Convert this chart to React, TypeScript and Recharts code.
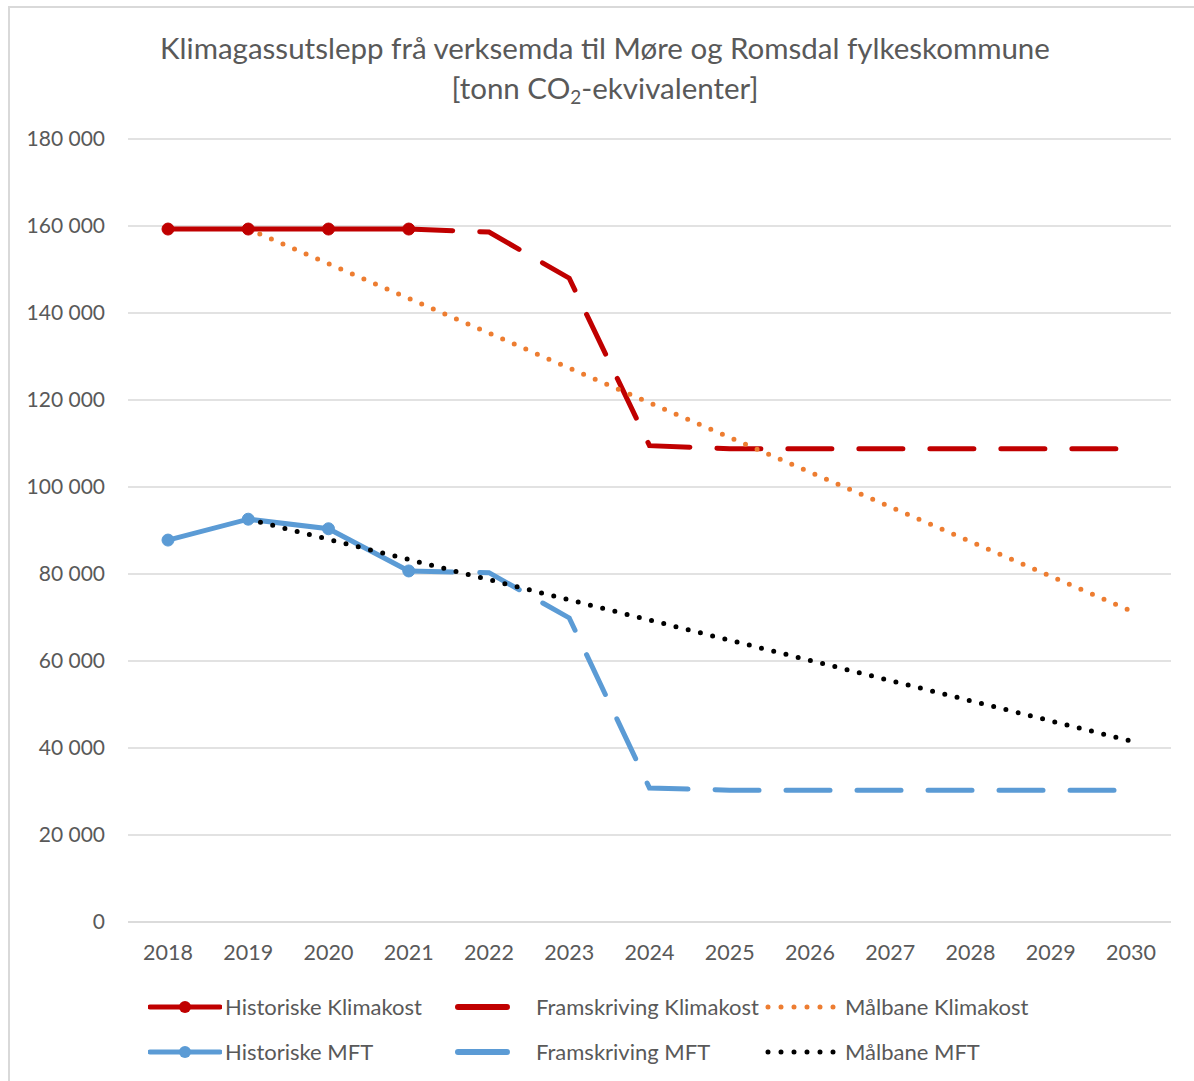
import React from 'react'
import { LineChart, Line, XAxis, YAxis, CartesianGrid } from 'recharts';

const years = ['2018', '2019', '2020', '2021', '2022', '2023', '2024', '2025', '2026', '2027', '2028', '2029', '2030'];

const historiskeKlimakost = [159300, 159300, 159300, 159300, null, null, null, null, null, null, null, null, null];
const framskrivingKlimakost = [null, null, null, 159300, 158600, 148000, 109500, 108800, 108800, 108800, 108800, 108800, 108800];
const malbaneKlimakost = [null, 159300, null, null, null, null, null, null, null, null, null, null, 71500];

const historiskeMFT = [87800, 92600, 90400, 80700, null, null, null, null, null, null, null, null, null];
const framskrivingMFT = [null, null, null, 80700, 80300, 69900, 30800, 30300, 30300, 30300, 30300, 30300, 30300];
const malbaneMFT = [null, 92600, null, null, null, null, null, null, null, null, null, null, 41600];

const yTicks = [0, 20000, 40000, 60000, 80000, 100000, 120000, 140000, 160000, 180000];

const RED = '#c00000';
const BLUE = '#5b9bd5';
const ORANGE = '#ed7d31';
const BLACK = '#000000';
const TEXT = '#595959';
const GRID = '#d9d9d9';
const FONT = 'Lato, "Open Sans", sans-serif';

const data = years.map((year, i) => ({
    year,
    historiskeKlimakost: historiskeKlimakost[i],
    framskrivingKlimakost: framskrivingKlimakost[i],
    malbaneKlimakost: malbaneKlimakost[i],
    historiskeMFT: historiskeMFT[i],
    framskrivingMFT: framskrivingMFT[i],
    malbaneMFT: malbaneMFT[i],
}));

function formatTick(v: number) {
    return String(v).replace(/\B(?=(\d{3})+(?!\d))/g, ' ');
}

function LegendIcon({ kind, color }: { kind: 'marker' | 'dash' | 'dot'; color: string }) {
    if (kind === 'marker') {
        return (
            <svg width={74} height={16} style={{ display: 'block' }}>
                <line x1={2} y1={8} x2={72} y2={8} stroke={color} strokeWidth={5} strokeLinecap="round" />
                <circle cx={37} cy={8} r={6} fill={color} />
            </svg>
        );
    }
    if (kind === 'dash') {
        return (
            <svg width={56} height={16} style={{ display: 'block' }}>
                <line x1={3} y1={8} x2={52} y2={8} stroke={color} strokeWidth={6} strokeLinecap="round" />
            </svg>
        );
    }
    return (
        <svg width={72} height={16} style={{ display: 'block' }}>
            <line x1={3} y1={8} x2={70} y2={8} stroke={color} strokeWidth={5} strokeLinecap="round" strokeDasharray="0 13" />
        </svg>
    );
}

const legendItems = [
    { label: 'Historiske Klimakost', kind: 'marker', color: RED, x: 138, textX: 215, y: 999 },
    { label: 'Framskriving Klimakost', kind: 'dash', color: RED, x: 445, textX: 526, y: 999 },
    { label: 'Målbane Klimakost', kind: 'dot', color: ORANGE, x: 755, textX: 835, y: 999 },
    { label: 'Historiske MFT', kind: 'marker', color: BLUE, x: 138, textX: 215, y: 1044 },
    { label: 'Framskriving MFT', kind: 'dash', color: BLUE, x: 445, textX: 526, y: 1044 },
    { label: 'Målbane MFT', kind: 'dot', color: BLACK, x: 755, textX: 835, y: 1044 },
] as const;

export default function App() {
    return (
        <>
            <style>{`body{margin:0;overflow:hidden;background:#fff}`}</style>
            <div style={{
                position: 'absolute', left: 8, top: 6, width: 1184, height: 1073,
                borderTop: `2px solid ${GRID}`, borderLeft: `2px solid ${GRID}`, fontFamily: FONT, color: TEXT,
            }}>
                <div style={{ position: 'absolute', left: 0, width: 1190, top: 20, textAlign: 'center', fontSize: 29.5, lineHeight: '40px' }}>
                    <div>Klimagassutslepp frå verksemda til Møre og Romsdal fylkeskommune</div>
                    <div>[tonn CO<sub style={{ fontSize: 19, verticalAlign: -5, lineHeight: 0 }}>2</sub>-ekvivalenter]</div>
                </div>

                <LineChart width={1184} height={1073} data={data}
                    margin={{ top: 131, right: 23, left: 0, bottom: 129 }}>
                    <CartesianGrid vertical={false} stroke={GRID} strokeWidth={1.5} />
                    <XAxis dataKey="year" height={30} padding={{ left: 40, right: 40 }} axisLine={{ stroke: GRID, strokeWidth: 1.5 }}
                        tickLine={false} tickSize={0} tickMargin={23} interval={0}
                        tick={{ fill: TEXT, fontSize: 21.5, fontFamily: FONT }} />
                    <YAxis width={118} domain={[0, 180000]} ticks={yTicks} tickFormatter={formatTick}
                        axisLine={false} tickLine={false} tickSize={0} tickMargin={23}
                        tick={{ fill: TEXT, fontSize: 21, fontFamily: FONT }} />

                    <Line dataKey="historiskeKlimakost" stroke={RED} strokeWidth={5} isAnimationActive={false}
                        dot={{ r: 6, fill: RED, stroke: RED, strokeWidth: 1 }} />
                    <Line dataKey="framskrivingKlimakost" stroke={RED} strokeWidth={5} strokeDasharray="44 27"
                        strokeLinecap="round" dot={false} isAnimationActive={false} />
                    <Line dataKey="historiskeMFT" stroke={BLUE} strokeWidth={5} isAnimationActive={false}
                        dot={{ r: 6, fill: BLUE, stroke: BLUE, strokeWidth: 1 }} />
                    <Line dataKey="framskrivingMFT" stroke={BLUE} strokeWidth={5} strokeDasharray="44 27"
                        strokeLinecap="round" dot={false} isAnimationActive={false} />
                    <Line dataKey="malbaneKlimakost" stroke={ORANGE} strokeWidth={5} strokeDasharray="0 12.6"
                        strokeLinecap="round" dot={false} connectNulls isAnimationActive={false} />
                    <Line dataKey="malbaneMFT" stroke={BLACK} strokeWidth={5} strokeDasharray="0 12.6"
                        strokeLinecap="round" dot={false} connectNulls isAnimationActive={false} />
                </LineChart>

                {legendItems.map(item => (
                    <React.Fragment key={item.label}>
                        <div style={{ position: 'absolute', left: item.x, top: item.y - 8 }}>
                            <LegendIcon kind={item.kind} color={item.color} />
                        </div>
                        <div style={{ position: 'absolute', left: item.textX, top: item.y - 14, fontSize: 22, lineHeight: '28px', whiteSpace: 'nowrap' }}>
                            {item.label}
                        </div>
                    </React.Fragment>
                ))}
            </div>
        </>
    );
}
